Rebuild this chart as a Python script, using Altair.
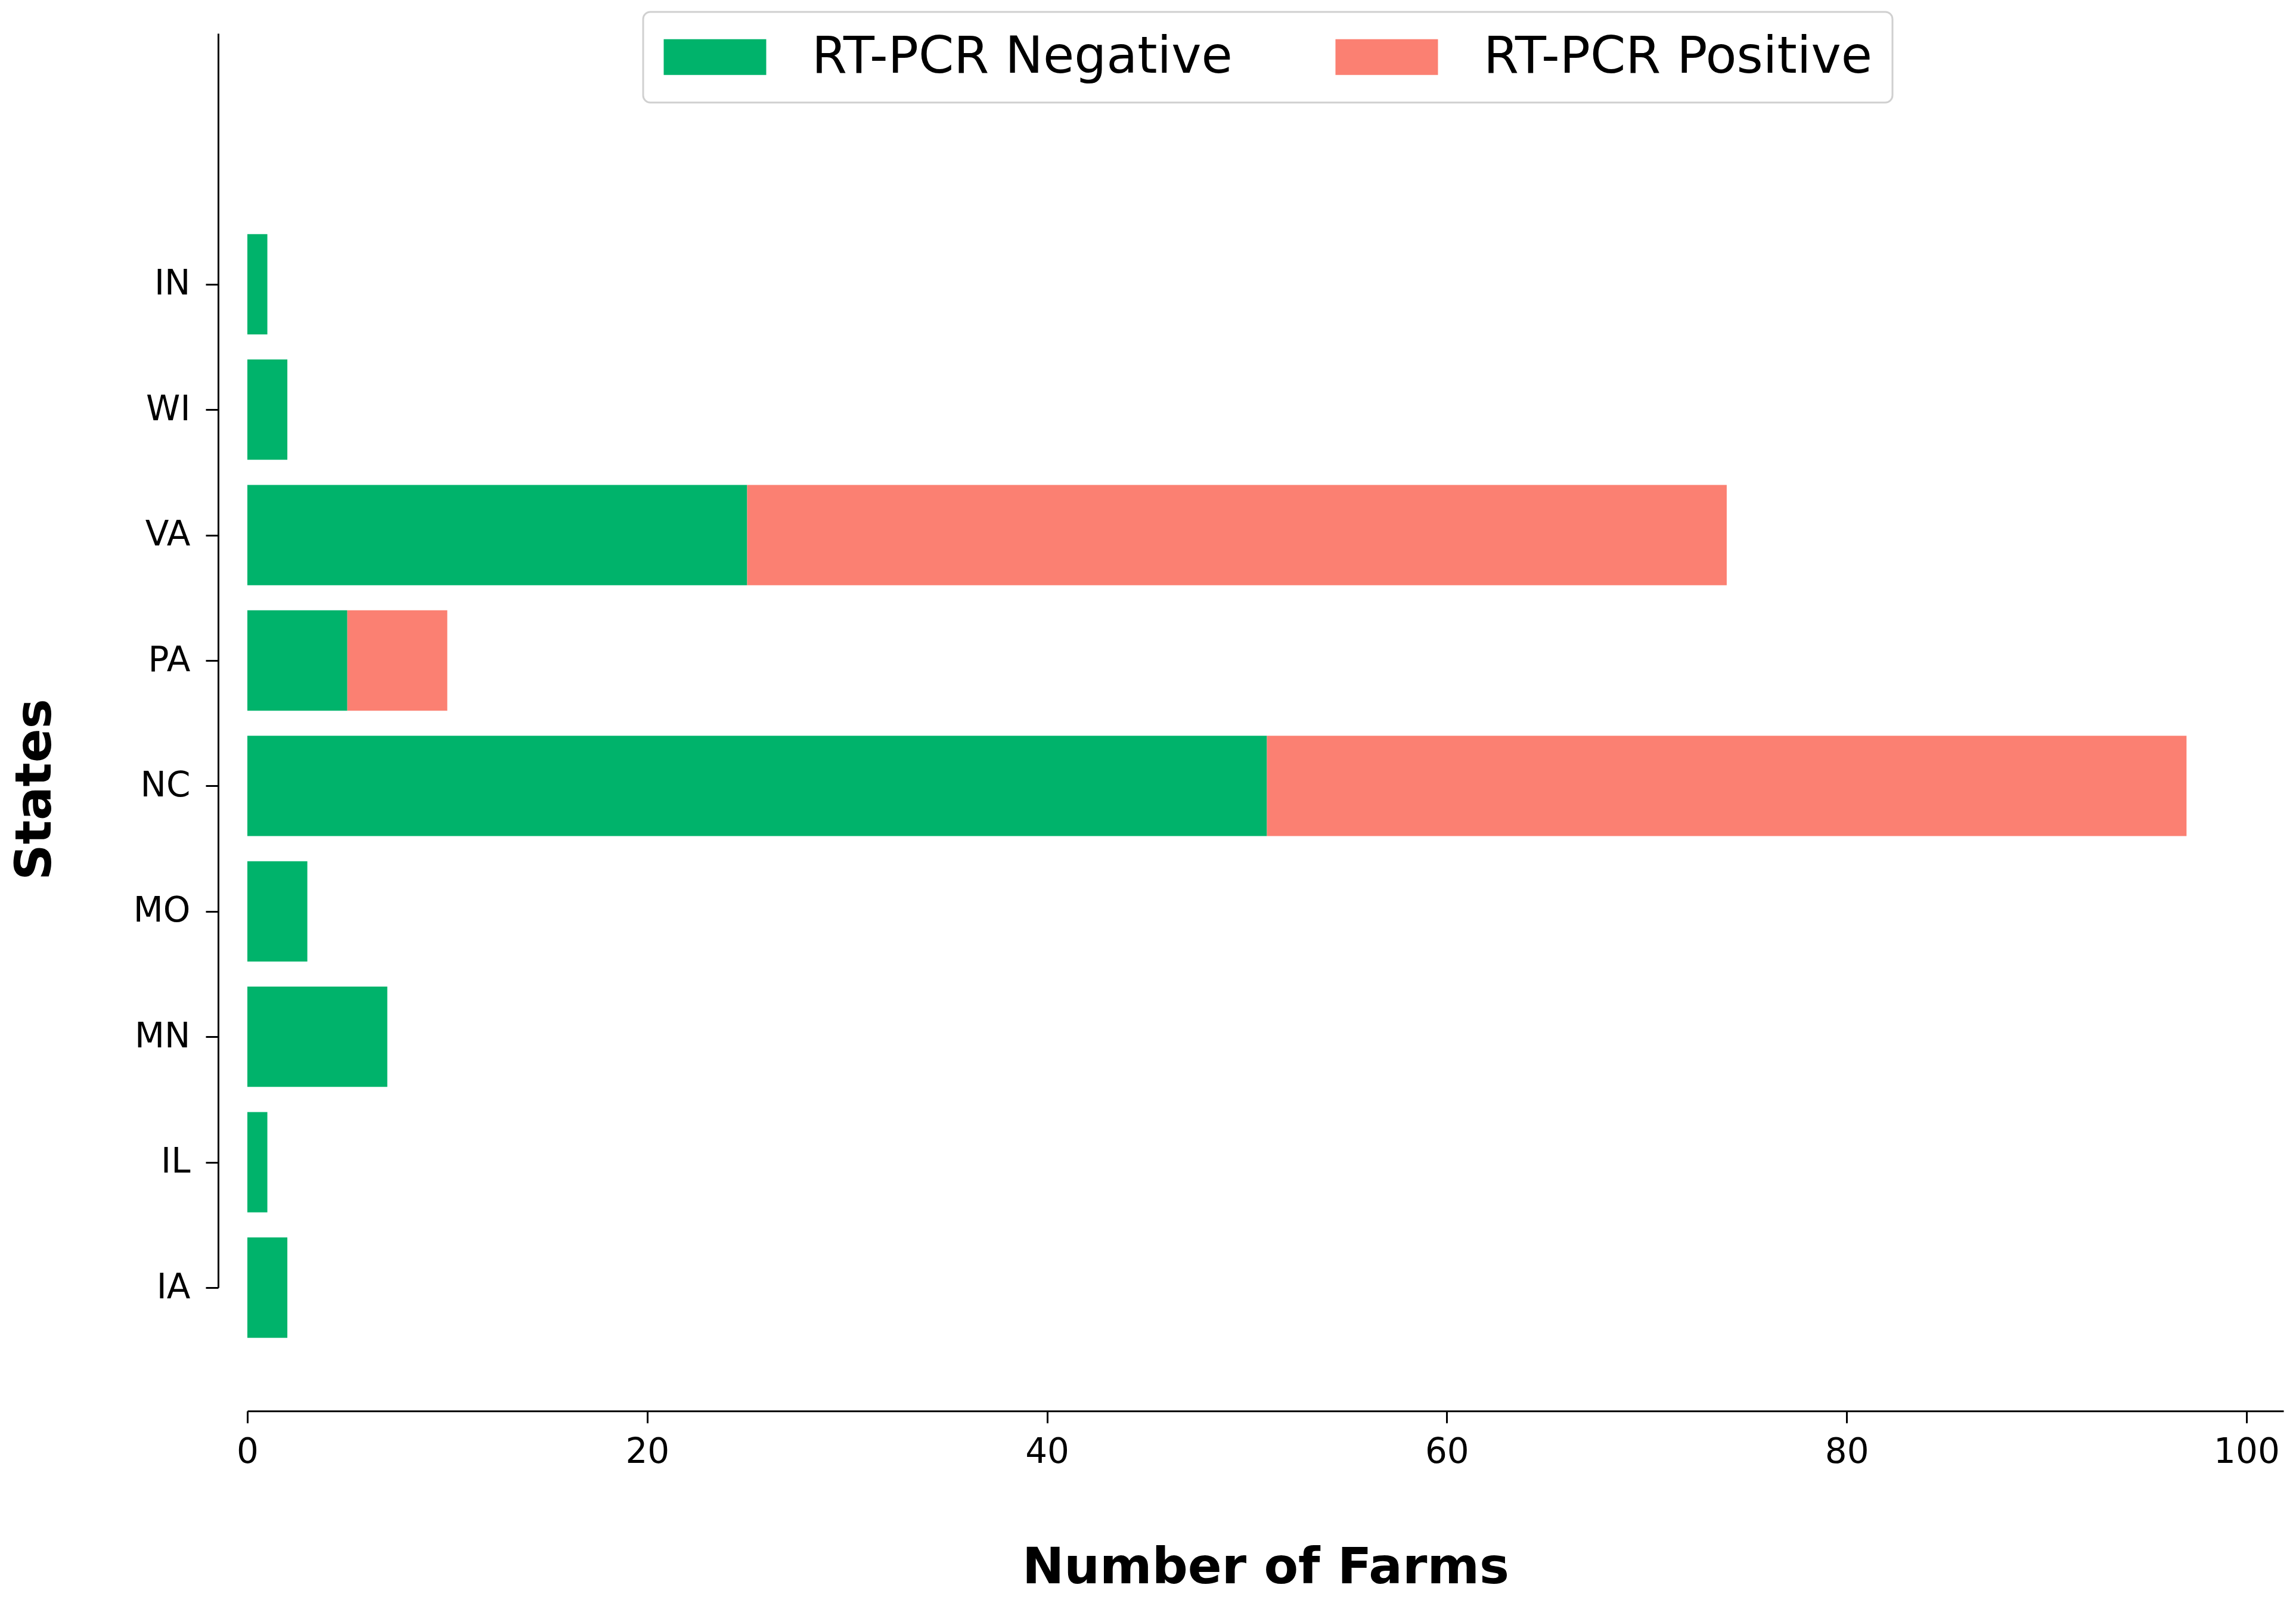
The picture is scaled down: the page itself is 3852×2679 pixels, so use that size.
import altair as alt
import pandas as pd

# ---- data ----
states = ["IA", "IL", "MN", "MO", "NC", "PA", "VA", "WI", "IN"]
negative = [2, 1, 7, 3, 51, 5, 25, 2, 1]
positive = [0, 0, 0, 0, 46, 5, 49, 0, 0]
statuses = ["RT-PCR Negative", "RT-PCR Positive"]
colors = ["#00B36B", "#FB8072"]
x_ticks = [0, 20, 40, 60, 80, 100]

rows = []
for i, (s, n, p) in enumerate(zip(states, negative, positive)):
    rows.append(dict(state=s, idx=i, status=statuses[0], start=0, end=n))
    if p > 0:
        rows.append(dict(state=s, idx=i, status=statuses[1], start=n, end=n + p))
df = pd.DataFrame(rows)

label_expr = "[" + ",".join(f"'{s}'" for s in states) + "][datum.value]"
FONT = "DejaVu Sans"

chart = (
    alt.Chart(df)
    .transform_calculate(lo="datum.idx - 0.4", hi="datum.idx + 0.4")
    .mark_bar(strokeWidth=0)
    .encode(
        x=alt.X(
            "start:Q",
            scale=alt.Scale(domain=[0, 101.85], nice=False, zero=True),
            axis=alt.Axis(
                values=x_ticks, format="d", grid=False, offset=207,
                domainColor="black", domainWidth=3, tickColor="black", tickWidth=3,
                tickSize=20, labelFont=FONT, labelFontSize=58, labelColor="black",
                labelPadding=20, labelFlush=False, title="Number of Farms",
                titleFont=FONT, titleFontSize=84, titleFontWeight="bold",
                titleColor="black", titleY=288, titleBaseline="alphabetic",
            ),
        ),
        x2="end:Q",
        y=alt.Y(
            "lo:Q",
            scale=alt.Scale(domain=[0, 10], nice=False, zero=False),
            axis=alt.Axis(
                values=list(range(len(states))), labelExpr=label_expr, grid=False,
                offset=49, domainColor="black", domainWidth=3, tickColor="black",
                tickWidth=3, tickSize=21, labelFont=FONT, labelFontSize=58,
                labelColor="black", labelPadding=26, title="States", titleFont=FONT,
                titleFontSize=84, titleFontWeight="bold", titleColor="black",
                titleAngle=270, titleX=-307, titleY=1268, titleAlign="center",
                titleBaseline="middle",
            ),
        ),
        y2="hi:Q",
        color=alt.Color(
            "status:N",
            scale=alt.Scale(domain=statuses, range=colors),
            legend=alt.Legend(
                title=None, orient="none", direction="horizontal",
                legendX=664, legendY=-36,
                symbolType="M-1,-0.73L3.195,-0.73L3.195,0.73L-1,0.73Z",
                symbolSize=6724, symbolStrokeWidth=0, symbolOpacity=1,
                labelFont=FONT, labelFontSize=85, labelColor="black",
                labelOffset=165, columnPadding=171, padding=33,
                strokeColor="#d0d0d0", fillColor="white", cornerRadius=12,
                labelLimit=2000,
            ),
        ),
    )
    .properties(
        width=3416, height=2104,
        autosize=alt.AutoSizeParams(type="none"),
        padding={"left": 407, "top": 48, "right": 5, "bottom": 518},
        background="white",
    )
    .configure_view(strokeWidth=0, stroke="transparent")
    .configure_legend(strokeWidth=3)
)

chart.save("out.html", embed_options={"renderer": "svg", "actions": False})
